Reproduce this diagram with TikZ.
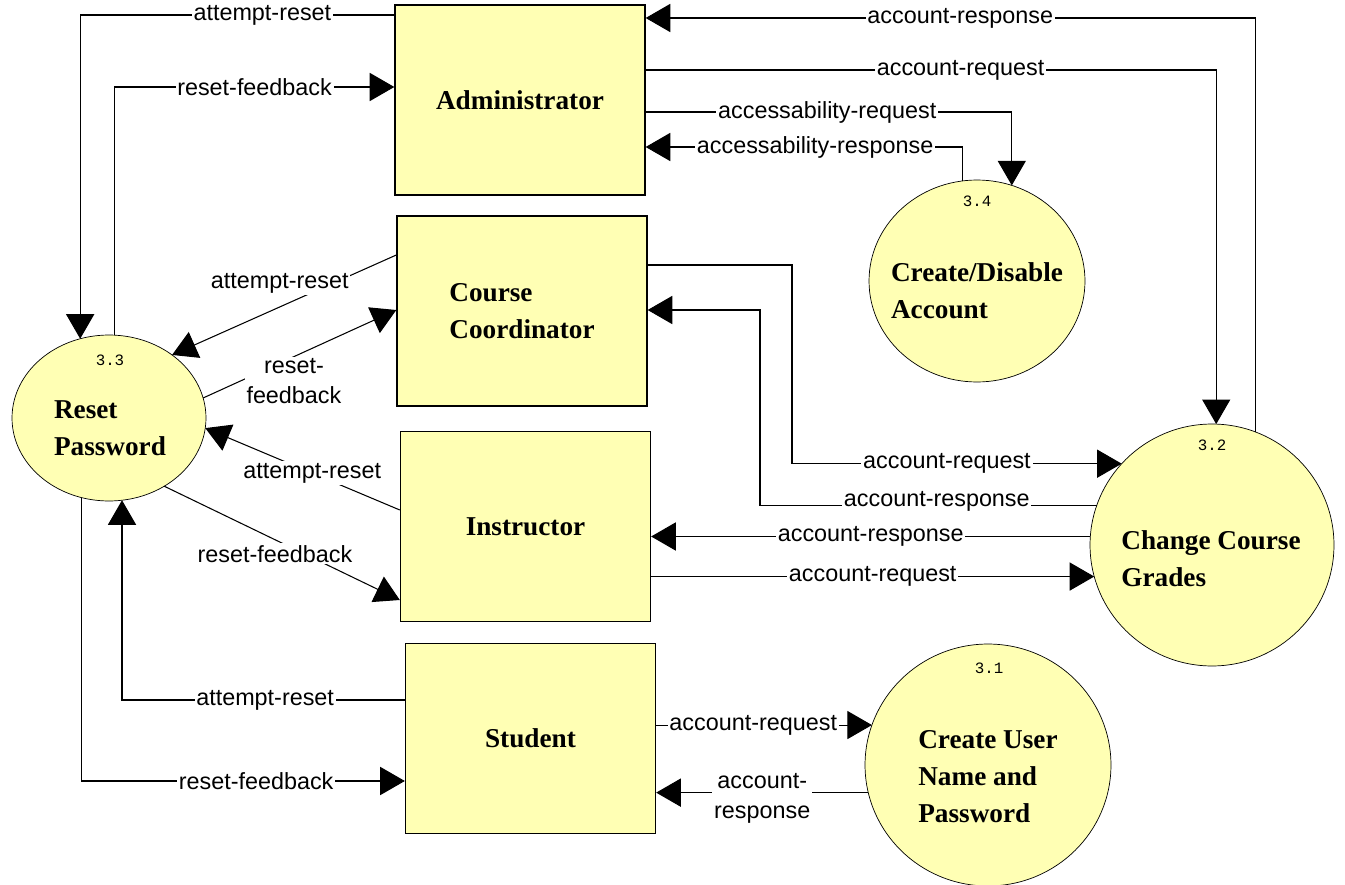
\documentclass[tikz,border=0pt]{standalone}
\usepackage{fontspec}
\setmainfont{Liberation Serif}
\setsansfont{Liberation Sans}
\setmonofont{Liberation Mono}
\usetikzlibrary{shapes.geometric,arrows.meta}
\definecolor{boxyellow}{RGB}{255,255,180}

\begin{document}
\begin{tikzpicture}[x=0.02cm,y=-0.02cm]
  \tikzstyle{entity} = [draw, line width=0.8pt, fill=boxyellow, minimum width=5cm, minimum height=3.8cm, inner sep=0pt, align=left, font=\bfseries\fontsize{15.5}{21}\selectfont]
  \tikzstyle{process} = [draw, ellipse, thin, fill=boxyellow, inner sep=0pt, outer sep=0pt]
  \tikzstyle{ptext} = [inner sep=0pt, align=left, font=\bfseries\fontsize{15.5}{21}\selectfont]
  \tikzstyle{pnum} = [inner sep=0pt, font=\ttfamily\fontsize{9}{10}\selectfont]
  \tikzstyle{flow} = [-{Triangle[length=14pt,width=16pt]}, line width=0.6pt]
  \tikzstyle{lbl} = [fill=white, inner sep=1pt, align=center, font=\sffamily\fontsize{13.3}{17}\selectfont]
  \useasboundingbox (0,0) rectangle (1345,885);

  % entities
  \draw (520,100) node[entity] (adm) {Administrator};
  \draw (522,311) node[entity] (cc) {Course\\Coordinator};
  \draw (525.5,526.5) node[entity] (ins) {Instructor};
  \draw (530.5,738.5) node[entity] (stu) {Student};

  % processes
  \draw (109,418) node[process, minimum width=3.88cm, minimum height=3.32cm] (rp) {};
  \draw (110,428) node[ptext] (rptxt) {Reset\\Password};
  \draw (110,360) node[pnum] (rpnum) {3.3};

  \draw (977,281) node[process, minimum width=4.32cm, minimum height=4.04cm] (cd) {};
  \draw (977,291) node[ptext] (cdtxt) {Create/Disable\\Account};
  \draw (977,201) node[pnum] (cdnum) {3.4};

  \draw (1212,545) node[process, minimum width=4.88cm, minimum height=4.84cm] (cg) {};
  \draw (1211,559) node[ptext] (cgtxt) {Change Course\\Grades};
  \draw (1212,445) node[pnum] (cgnum) {3.2};

  \draw (988,765) node[process, minimum width=4.92cm, minimum height=4.84cm] (cu) {};
  \draw (988,777) node[ptext] (cutxt) {Create User\\Name and\\Password};
  \draw (989,668) node[pnum] (cunum) {3.1};

  % administrator flows
  \draw [flow] (adm.west |- 0,15) -| node[lbl, pos=0.21] {attempt-reset} (rp.110);
  \draw [flow] (rp.86) |- node[lbl, pos=0.75] {reset-feedback} (adm.west |- 0,87);
  \draw [flow] (cg.69) |- node[lbl, pos=0.742] {account-response} (adm.east |- 0,18);
  \draw [flow] (adm.east |- 0,70) -| node[lbl, pos=0.276] {account-request} (cg.88);
  \draw [flow] (adm.east |- 0,112) -| node[lbl, pos=0.248] {accessability-request} (cd.70);
  \draw [flow] (cd.98) |- node[lbl, pos=0.733] {accessability-response} (adm.east |- 0,147);

  % course coordinator flows
  \draw [flow] (cc.west |- 0,255) -- node[lbl, pos=0.52, yshift=13.7pt] {attempt-reset} (rp.45);
  \draw [flow] (rp.12) -- node[lbl, pos=0.47, yshift=-14pt] {reset-\\feedback} (cc.west |- 0,310);
  \draw [flow] (cc.east |- 0,265) -| (792,0 |- cg.138) -- node[lbl, pos=0.47] {account-request} (cg.138);
  \draw [flow] (cg.161) -- node[lbl, pos=0.475, yshift=2pt] {account-response} (760,0 |- cg.161) |- (cc.east |- 0,310);

  % instructor flows
  \draw [flow] (ins.west |- 0,510) -- node[lbl, pos=0.45] {attempt-reset} (rp.-6);
  \draw [flow] (rp.-51) -- node[lbl, pos=0.47, yshift=-8pt] {reset-feedback} (ins.west |- 0,600);
  \draw [flow] (cg.176) -- node[lbl] {account-response} (ins.east |- cg.176);
  \draw [flow] (ins.east |- cg.195) -- node[lbl] {account-request} (cg.195);

  % student flows
  \draw [flow] (stu.west |- 0,700) -| node[lbl, pos=0.247] {attempt-reset} (rp.-81);
  \draw [flow] (rp.-109) |- node[lbl, pos=0.77] {reset-feedback} (stu.west |- 0,781);
  \draw [flow] (stu.east |- cu.161) -- node[lbl, pos=0.45] {account-request} (cu.161);
  \draw [flow] (cu.193) -- node[lbl, yshift=-3.4pt] {account-\\response} (stu.east |- cu.193);
\end{tikzpicture}
\end{document}
